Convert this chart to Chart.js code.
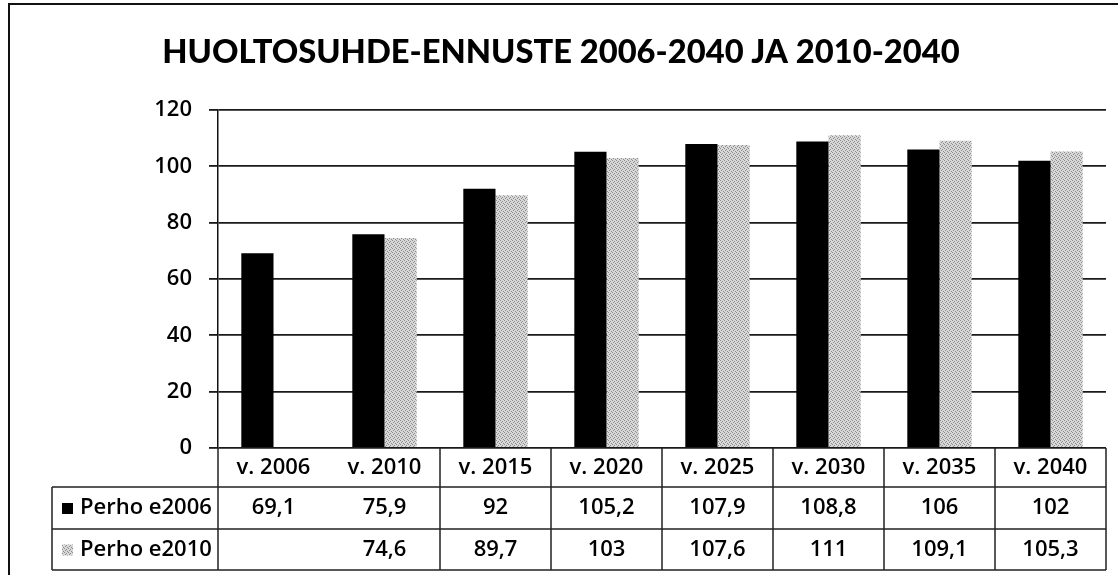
<!DOCTYPE html>
<html lang="fi">
<head>
<meta charset="utf-8">
<title>Huoltosuhde-ennuste</title>
<script src="https://cdn.jsdelivr.net/npm/chart.js@4/dist/chart.umd.min.js"></script>
<style>
  body { margin: 0; background: #fff; }
  #wrap { width: 1120px; height: 578px; }
</style>
</head>
<body>
<div id="wrap"><canvas id="kaavio" width="1120" height="578"></canvas></div>
<script>
// --- DATA ---
const otsikko = 'HUOLTOSUHDE-ENNUSTE 2006-2040 JA 2010-2040';
const vuodet = ['v. 2006', 'v. 2010', 'v. 2015', 'v. 2020', 'v. 2025', 'v. 2030', 'v. 2035', 'v. 2040'];
const sarjat = ['Perho e2006', 'Perho e2010'];
const perhoE2006 = [69.1, 75.9, 92, 105.2, 107.9, 108.8, 106, 102];
const perhoE2010 = [null, 74.6, 89.7, 103, 107.6, 111, 109.1, 105.3];
const yTicks = [0, 20, 40, 60, 80, 100, 120];

// --- TYYLIT ---
const fontti = '"Open Sans", "DejaVu Sans", sans-serif';
const otsikkoFontti = 'Lato, "DejaVu Sans", sans-serif';
const musta = '#000';

// harmaa "rasteri" kuvio toiselle sarjalle
function teeKuvio() {
    const c = document.createElement('canvas');
    c.width = 4; c.height = 4;
    const g = c.getContext('2d');
    g.fillStyle = '#d8d8d8';
    g.fillRect(0, 0, 4, 4);
    g.fillStyle = '#8c8c8c';
    [[0, 0], [2, 1], [1, 2], [3, 3]].forEach(([x, y]) => g.fillRect(x, y, 1, 1));
    return g.createPattern(c, 'repeat');
}
const harmaa = teeKuvio();
const varit = [musta, harmaa];

function muotoile(v) {
    if (v === null || v === undefined) return '';
    return String(v).replace('.', ',');
}

// otsikko, reunat ja taulukko piirretään itse
const taulukkoPlugin = {
    id: 'taulukko',
    afterDraw(chart) {
        const ctx = chart.ctx;
        const x = chart.scales.x;
        const ala = chart.chartArea;
        const leveys = x.width / vuodet.length;
        const rivit = [ala.bottom, 487, 529, 570];
        const vasen = 52;

        ctx.save();
        // kuvan reunat
        ctx.strokeStyle = '#111';
        ctx.lineWidth = 2;
        ctx.beginPath();
        ctx.moveTo(9, 575);
        ctx.lineTo(9, 4);
        ctx.lineTo(1118, 4);
        ctx.stroke();

        // otsikko
        ctx.fillStyle = musta;
        let koko = 35;
        ctx.font = `900 ${koko}px ${otsikkoFontti}`;
        const mitta = ctx.measureText(otsikko).width;
        koko = koko * 797 / mitta;
        ctx.font = `900 ${koko.toFixed(1)}px ${otsikkoFontti}`;
        ctx.textAlign = 'center';
        ctx.textBaseline = 'alphabetic';
        ctx.fillText(otsikko, 561, 63);

        // taulukon viivat
        ctx.strokeStyle = '#222';
        ctx.lineWidth = 1.5;
        ctx.beginPath();
        for (let r = 1; r < rivit.length; r++) {
            ctx.moveTo(vasen, rivit[r]);
            ctx.lineTo(ala.right, rivit[r]);
        }
        ctx.moveTo(vasen, rivit[1]);
        ctx.lineTo(vasen, rivit[3]);
        ctx.moveTo(ala.left, rivit[0]);
        ctx.lineTo(ala.left, rivit[3]);
        for (let i = 1; i <= vuodet.length; i++) {
            if (i === 1) continue; // skannauksessa puuttuva viiva
            const xx = ala.left + i * leveys;
            ctx.moveTo(xx, rivit[0]);
            ctx.lineTo(xx, rivit[3]);
        }
        ctx.stroke();

        // tekstit
        ctx.font = `600 22px ${fontti}`;
        ctx.fillStyle = musta;
        ctx.textAlign = 'center';
        ctx.textBaseline = 'middle';
        vuodet.forEach((v, i) => {
            const cx = x.getPixelForValue(i);
            ctx.fillText(v, cx, (rivit[0] + rivit[1]) / 2);
            ctx.fillText(muotoile(perhoE2006[i]), cx, (rivit[1] + rivit[2]) / 2);
            ctx.fillText(muotoile(perhoE2010[i]), cx, (rivit[2] + rivit[3]) / 2);
        });

        // sarjojen nimet ja merkit
        ctx.textAlign = 'left';
        sarjat.forEach((nimi, s) => {
            const cy = (rivit[s + 1] + rivit[s + 2]) / 2;
            ctx.fillStyle = varit[s];
            ctx.fillRect(62, cy - 5, 11, 11);
            ctx.fillStyle = musta;
            ctx.fillText(nimi, 80, cy);
        });
        ctx.restore();
    }
};

new Chart(document.getElementById('kaavio'), {
    type: 'bar',
    data: {
        labels: vuodet,
        datasets: [
            { label: sarjat[0], data: perhoE2006, backgroundColor: varit[0] },
            { label: sarjat[1], data: perhoE2010, backgroundColor: varit[1] }
        ]
    },
    options: {
        responsive: false,
        animation: false,
        devicePixelRatio: 1,
        layout: { padding: { top: 110, right: 14, bottom: 130, left: 0 } },
        datasets: { bar: { categoryPercentage: 0.58, barPercentage: 1.0 } },
        plugins: {
            legend: { display: false },
            title: { display: false },
            tooltip: { enabled: false }
        },
        scales: {
            x: { display: false },
            y: {
                min: 0,
                max: 120,
                afterFit: (s) => { s.width = 218; },
                afterBuildTicks: (s) => { s.ticks = yTicks.map(v => ({ value: v })); },
                ticks: {
                    color: musta,
                    padding: 17,
                    font: { family: fontti, size: 22, weight: '600' }
                },
                grid: { color: '#1a1a1a', lineWidth: 1.8, tickLength: 9 },
                border: { color: '#111', width: 1.5 }
            }
        }
    },
    plugins: [taulukkoPlugin]
});
</script>
</body>
</html>
